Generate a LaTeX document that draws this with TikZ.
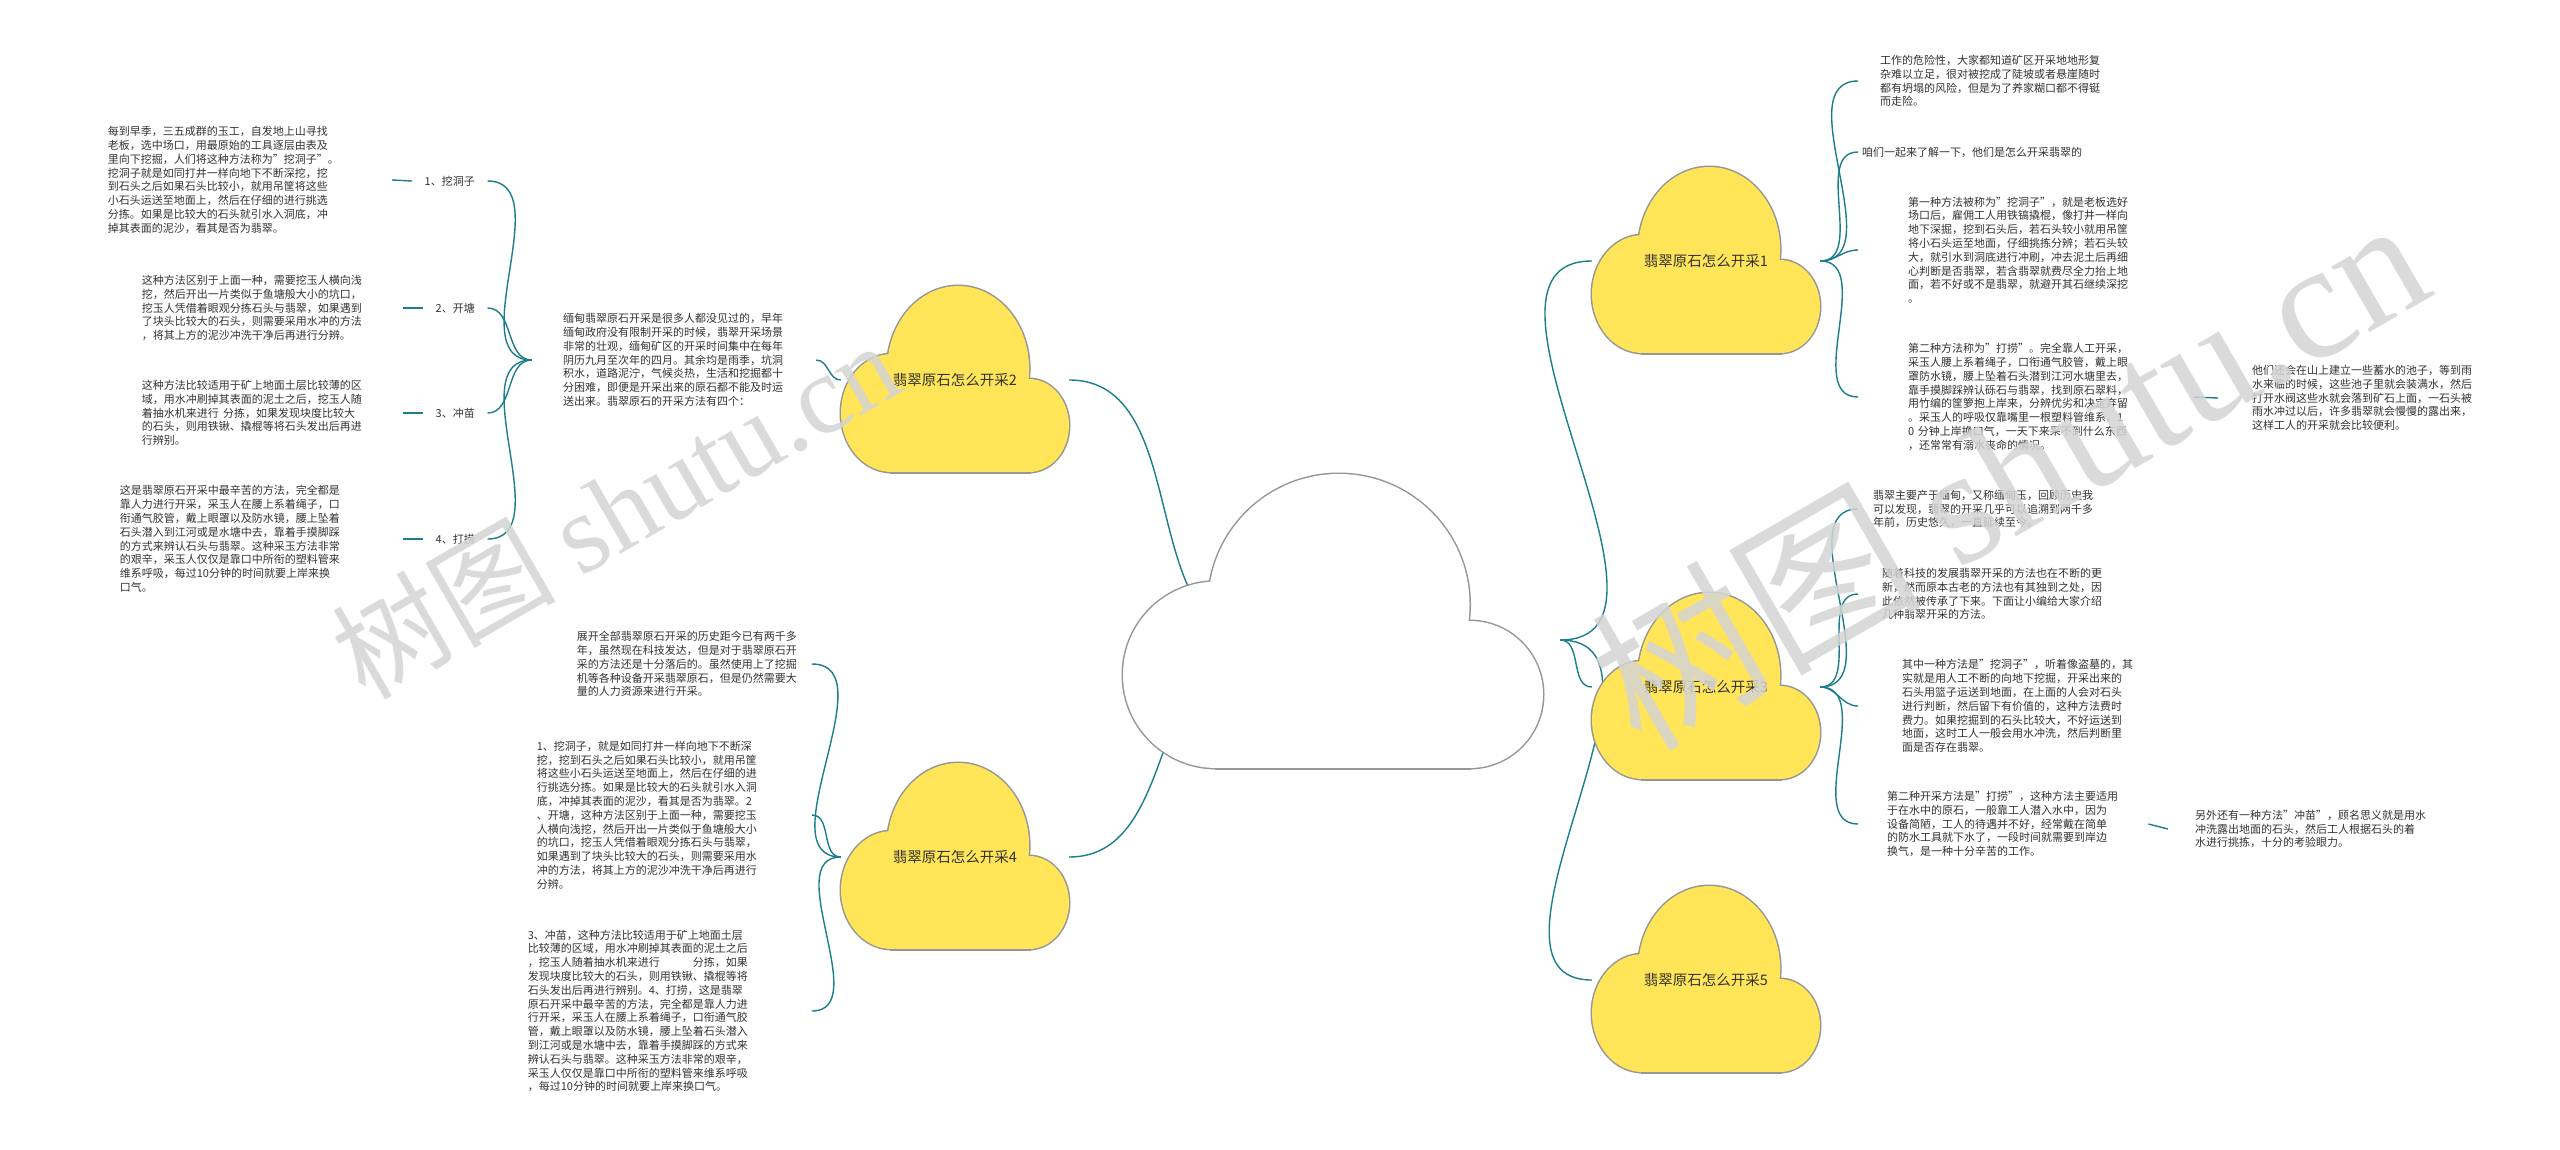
\documentclass[tikz,border=0pt]{standalone}
\usepackage{fontspec}
\setmainfont{Noto Sans CJK SC}
\newfontfamily\wmlatin{Liberation Serif}
\usetikzlibrary{positioning}
\pgfdeclarelayer{background}
\pgfsetlayers{background,main}
\definecolor{branch}{RGB}{28,125,140}
\definecolor{cloudyellow}{RGB}{255,229,87}
\definecolor{cloudline}{RGB}{150,150,150}
\definecolor{inktext}{RGB}{51,51,51}
\tikzset{
	txt/.style={font=\fontsize{11}{13.8}\selectfont, text=inktext, align=left, inner ysep=2pt, inner xsep=#1},
	txt/.default=0pt,
	lbl/.style={font=\fontsize{11}{13.8}\selectfont, text=inktext, inner xsep=12.5pt, anchor=west},
	topic/.style={font=\fontsize{14.5}{17}\selectfont, text=inktext, minimum width=228pt, inner sep=0pt},
	link/.style={draw=branch, line width=1.4pt},
	toL/.style={out=180, in=0},
	toR/.style={out=0, in=180},
	wmark/.style={text=black!17, text opacity=0.85, rotate=30, anchor=base west, inner sep=0pt}
}
\newcommand{\cloudpieces}[5]{%
	\path[#1] ({#2+0.222*#4},{#3-0.317*#5}) ellipse [x radius={0.222*#4*1pt}, y radius={0.317*#5*1pt}];
	\path[#1] ({#2+0.514*#4},{#3-0.556*#5}) ellipse [x radius={0.311*#4*1pt}, y radius={0.444*#5*1pt}];
	\path[#1] ({#2+0.825*#4},{#3-0.25*#5}) ellipse [x radius={0.175*#4*1pt}, y radius={0.25*#5*1pt}];
	\path[#1] ({#2+0.222*#4},#3) rectangle ({#2+0.825*#4},{#3-0.317*#5});
}
\newcommand{\cloud}[5]{%
	\cloudpieces{draw=cloudline, line width=3pt}{#2}{#3}{#4}{#5}
	\cloudpieces{fill=#1}{#2}{#3}{#4}{#5}
}
\begin{document}
\begin{tikzpicture}[x=1pt, y=-1pt]
	\useasboundingbox (0,0) rectangle (2560,1149);
	\begin{pgfonlayer}{background}
		\fill[white] (0,0) rectangle (2560,1149);
	\end{pgfonlayer}
	\cloud{white}{1123}{768}{420}{294}
	\cloud{cloudyellow}{1592}{353}{228}{186}
	\cloud{cloudyellow}{841}{472}{228}{186}
	\cloud{cloudyellow}{1592}{779}{228}{186}
	\cloud{cloudyellow}{841}{949}{228}{186}
	\cloud{cloudyellow}{1592}{1072}{228}{186}
	\node[minimum width=300pt, inner sep=0pt] (root) at (1410,640) {};
	\node[topic] (c1) at (1706,261) {翡翠原石怎么开采1};
	\node[topic] (c2) at (955,380) {翡翠原石怎么开采2};
	\node[topic] (c3) at (1706,687) {翡翠原石怎么开采3};
	\node[topic] (c4) at (955,857) {翡翠原石怎么开采4};
	\node[topic] (c5) at (1706,980) {翡翠原石怎么开采5};
	% left of cloud 2
	\node[txt=31pt, text width=222pt] (P0) at (674,360) {缅甸翡翠原石开采是很多人都没见过的，早年\\缅甸政府没有限制开采的时候，翡翠开采场景\\非常的壮观，缅甸矿区的开采时间集中在每年\\阴历九月至次年的四月。其余均是雨季，坑洞\\积水，道路泥泞，气候炎热，生活和挖掘都十\\分困难，即便是开采出来的原石都不能及时运\\送出来。翡翠原石的开采方法有四个：};
	\node[lbl] (L1) at (412,181) {1、挖洞子};
	\node[lbl] (L2) at (423,308) {2、开塘};
	\node[lbl] (L3) at (423,413) {3、冲苗};
	\node[lbl] (L4) at (423,539) {4、打捞};
	\node[txt, text width=284pt, anchor=east] (P1) at (392,180) {每到早季，三五成群的玉工，自发地上山寻找\\老板，选中场口，用最原始的工具逐层由表及\\里向下挖掘，人们将这种方法称为"挖洞子"。\\挖洞子就是如同打井一样向地下不断深挖，挖\\到石头之后如果石头比较小，就用吊筐将这些\\小石头运送至地面上，然后在仔细的进行挑选\\分拣。如果是比较大的石头就引水入洞底，冲\\掉其表面的泥沙，看其是否为翡翠。};
	\node[txt, text width=261pt, anchor=east] (P2) at (403,308) {这种方法区别于上面一种，需要挖玉人横向浅\\挖，然后开出一片类似于鱼塘般大小的坑口，\\挖玉人凭借着眼观分拣石头与翡翠，如果遇到\\了块头比较大的石头，则需要采用水冲的方法\\，将其上方的泥沙冲洗干净后再进行分辨。};
	\node[txt, text width=261pt, anchor=east] (P3) at (403,413) {这种方法比较适用于矿上地面土层比较薄的区\\域，用水冲刷掉其表面的泥土之后，挖玉人随\\着抽水机来进行\hspace{0.4em}分拣，如果发现块度比较大\\的石头，则用铁锹、撬棍等将石头发出后再进\\行辨别。};
	\node[txt, text width=283pt, anchor=east] (P4) at (403,539) {这是翡翠原石开采中最辛苦的方法，完全都是\\靠人力进行开采，采玉人在腰上系着绳子，口\\衔通气胶管，戴上眼罩以及防水镜，腰上坠着\\石头潜入到江河或是水塘中去，靠着手摸脚踩\\的方式来辨认石头与翡翠。这种采玉方法非常\\的艰辛，采玉人仅仅是靠口中所衔的塑料管来\\维系呼吸，每过10分钟的时间就要上岸来换\\口气。};
	% left of cloud 4
	\node[txt=13pt, text width=222pt, anchor=east] (Q1) at (812,664) {展开全部翡翠原石开采的历史距今已有两千多\\年，虽然现在科技发达，但是对于翡翠原石开\\采的方法还是十分落后的。虽然使用上了挖掘\\机等各种设备开采翡翠原石，但是仍然需要大\\量的人力资源来进行开采。};
	\node[txt=13pt, text width=262pt, anchor=east] (Q2) at (812,815) {1、挖洞子，就是如同打井一样向地下不断深\\挖，挖到石头之后如果石头比较小，就用吊筐\\将这些小石头运送至地面上，然后在仔细的进\\行挑选分拣。如果是比较大的石头就引水入洞\\底，冲掉其表面的泥沙，看其是否为翡翠。2\\、开塘，这种方法区别于上面一种，需要挖玉\\人横向浅挖，然后开出一片类似于鱼塘般大小\\的坑口，挖玉人凭借着眼观分拣石头与翡翠，\\如果遇到了块头比较大的石头，则需要采用水\\冲的方法，将其上方的泥沙冲洗干净后再进行\\分辨。};
	\node[txt=13pt, text width=271pt, anchor=east] (Q3) at (812,1011) {3、冲苗，这种方法比较适用于矿上地面土层\\比较薄的区域，用水冲刷掉其表面的泥土之后\\，挖玉人随着抽水机来进行\hspace{3em}分拣，如果\\发现块度比较大的石头，则用铁锹、撬棍等将\\石头发出后再进行辨别。4、打捞，这是翡翠\\原石开采中最辛苦的方法，完全都是靠人力进\\行开采，采玉人在腰上系着绳子，口衔通气胶\\管，戴上眼罩以及防水镜，腰上坠着石头潜入\\到江河或是水塘中去，靠着手摸脚踩的方式来\\辨认石头与翡翠。这种采玉方法非常的艰辛，\\采玉人仅仅是靠口中所衔的塑料管来维系呼吸\\，每过10分钟的时间就要上岸来换口气。};
	% right of cloud 1
	\node[txt=22pt, text width=222pt, anchor=west] (R1) at (1858,81) {工作的危险性，大家都知道矿区开采地地形复\\杂难以立足，很对被挖成了陡坡或者悬崖随时\\都有坍塌的风险，但是为了养家糊口都不得铤\\而走险。};
	\node[txt=4pt, text width=222pt, anchor=west] (R2) at (1858,152) {咱们一起来了解一下，他们是怎么开采翡翠的};
	\node[txt=50pt, text width=222pt, anchor=west] (R3) at (1858,250) {第一种方法被称为"挖洞子"，就是老板选好\\场口后，雇佣工人用铁镐撬棍，像打井一样向\\地下深掘，挖到石头后，若石头较小就用吊筐\\将小石头运至地面，仔细挑拣分辨；若石头较\\大，就引水到洞底进行冲刷，冲去泥土后再细\\心判断是否翡翠，若含翡翠就费尽全力抬上地\\面，若不好或不是翡翠，就避开其石继续深挖\\。};
	\node[txt=50pt, text width=235pt, anchor=west] (R4) at (1858,397) {第二种方法称为"打捞"。完全靠人工开采，\\采玉人腰上系着绳子，口衔通气胶管，戴上眼\\罩防水镜，腰上坠着石头潜到江河水塘里去，\\靠手摸脚踩辨认砾石与翡翠，找到原石翠料，\\用竹编的筐箩抱上岸来，分辨优劣和决定弃留\\。采玉人的呼吸仅靠嘴里一根塑料管维系，1\\0 分钟上岸换口气，一天下来采不到什么东西\\，还常常有溺水丧命的情况。};
	\node[txt=34pt, text width=222pt, anchor=west] (R5) at (2218,398) {他们还会在山上建立一些蓄水的池子，等到雨\\水来临的时候，这些池子里就会装满水，然后\\打开水阀这些水就会落到矿石上面，一石头被\\雨水冲过以后，许多翡翠就会慢慢的露出来，\\这样工人的开采就会比较便利。};
	% right of cloud 3
	\node[txt=15pt, text width=222pt, anchor=west] (R6) at (1858,509) {翡翠主要产于缅甸，又称缅甸玉，回顾历史我\\可以发现，翡翠的开采几乎可以追溯到两千多\\年前，历史悠久，一直延续至今。};
	\node[txt=24pt, text width=222pt, anchor=west] (R7) at (1858,594) {随着科技的发展翡翠开采的方法也在不断的更\\新，然而原本古老的方法也有其独到之处，因\\此依然被传承了下来。下面让小编给大家介绍\\几种翡翠开采的方法。};
	\node[txt=44pt, text width=222pt, anchor=west] (R8) at (1858,706) {其中一种方法是"挖洞子"，听着像盗墓的，其\\实就是用人工不断的向地下挖掘，开采出来的\\石头用篮子运送到地面，在上面的人会对石头\\进行判断，然后留下有价值的，这种方法费时\\费力。如果挖掘到的石头比较大，不好运送到\\地面，这时工人一般会用水冲洗，然后判断里\\面是否存在翡翠。};
	\node[txt=29pt, text width=232pt, anchor=west] (R9) at (1858,824) {第二种开采方法是"打捞"，这种方法主要适用\\于在水中的原石，一般靠工人潜入水中，因为\\设备简陋，工人的待遇并不好，经常戴在简单\\的防水工具就下水了，一段时间就需要到岸边\\换气，是一种十分辛苦的工作。};
	\node[txt=27pt, text width=222pt, anchor=west] (R10) at (2168,829) {另外还有一种方法"冲苗"，顾名思义就是用水\\冲洗露出地面的石头，然后工人根据石头的着\\水进行挑拣，十分的考验眼力。};
	\begin{pgfonlayer}{background}
		\draw[link] (root.west) to[toL] (c2.east);
		\draw[link] (root.west) to[toL] (c4.east);
		\draw[link] (root.east) to[toR] (c1.west);
		\draw[link] (root.east) to[toR] (c3.west);
		\draw[link] (root.east) to[toR] (c5.west);
		\draw[link] (c2.west) to[toL] (P0.east);
		\foreach \k in {1,...,4} {
			\draw[link] (P0.west) to[toL] (L\k.east);
			\draw[link] (L\k.west) -- (P\k.east);
		}
		\foreach \k in {1,2,3}
			\draw[link] (c4.west) to[toL] (Q\k.east);
		\foreach \k in {1,...,4}
			\draw[link] (c1.east) to[toR] (R\k.west);
		\foreach \k in {6,...,9}
			\draw[link] (c3.east) to[toR] (R\k.west);
		\draw[link] (R4.east) -- (R5.west);
		\draw[link] (R9.east) -- (R10.west);
	\end{pgfonlayer}
	\node[wmark, font=\fontsize{112}{112}\selectfont] (wmL) at (365,702) {树图 {\wmlatin shutu.cn}};
	\node[wmark, font=\fontsize{165}{165}\selectfont] (wmR) at (1640,754) {树图 {\wmlatin shutu.cn}};
\end{tikzpicture}
\end{document}
